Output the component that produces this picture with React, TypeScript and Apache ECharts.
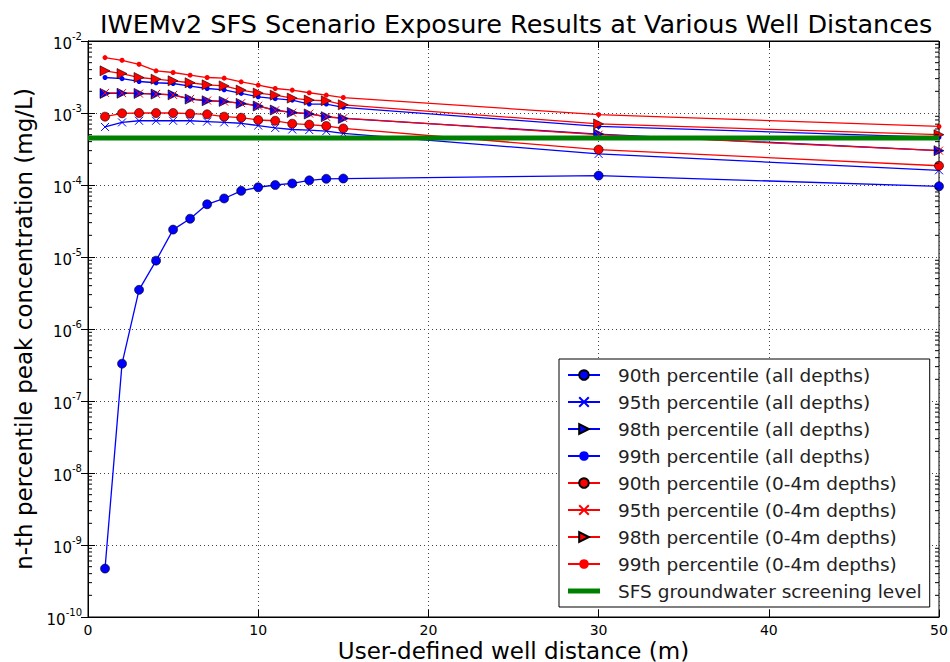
import React, { useEffect, useRef } from 'react';
import * as echarts from 'echarts';

const distances = [1, 2, 3, 4, 5, 6, 7, 8, 9, 10, 11, 12, 13, 14, 15, 30, 50];

const p90All = [4.7e-10, 3.3e-7, 3.5e-6, 8.9e-6, 2.4e-5, 3.4e-5, 5.4e-5, 6.5e-5, 8.3e-5, 9.3e-5, 1.0e-4, 1.05e-4, 1.16e-4, 1.22e-4, 1.23e-4, 1.35e-4, 9.6e-5];
const p95All = [6.4e-4, 7.4e-4, 7.8e-4, 7.8e-4, 7.8e-4, 7.8e-4, 7.6e-4, 7.4e-4, 7.2e-4, 6.7e-4, 6.2e-4, 5.9e-4, 5.8e-4, 5.6e-4, 5.2e-4, 2.7e-4, 1.6e-4];
const p98All = [1.87e-3, 1.88e-3, 1.87e-3, 1.83e-3, 1.79e-3, 1.56e-3, 1.48e-3, 1.45e-3, 1.36e-3, 1.25e-3, 1.1e-3, 1.02e-3, 9.7e-4, 8.9e-4, 8.4e-4, 5.1e-4, 3.0e-4];
const p99All = [3.11e-3, 3.0e-3, 2.74e-3, 2.63e-3, 2.57e-3, 2.36e-3, 2.19e-3, 2.1e-3, 1.87e-3, 1.68e-3, 1.58e-3, 1.51e-3, 1.33e-3, 1.33e-3, 1.2e-3, 6.5e-4, 4.6e-4];
const p90Top = [8.9e-4, 9.9e-4, 1.0e-3, 1.0e-3, 1.0e-3, 9.8e-4, 9.6e-4, 8.9e-4, 8.6e-4, 8.0e-4, 7.8e-4, 7.1e-4, 6.9e-4, 6.6e-4, 6.1e-4, 3.1e-4, 1.85e-4];
const p95Top = [1.9e-3, 1.89e-3, 1.86e-3, 1.84e-3, 1.78e-3, 1.57e-3, 1.49e-3, 1.44e-3, 1.37e-3, 1.26e-3, 1.09e-3, 1.01e-3, 9.8e-4, 8.8e-4, 8.5e-4, 5.0e-4, 3.0e-4];
const p98Top = [3.85e-3, 3.53e-3, 3.11e-3, 2.95e-3, 2.8e-3, 2.63e-3, 2.46e-3, 2.38e-3, 2.08e-3, 1.89e-3, 1.77e-3, 1.61e-3, 1.51e-3, 1.48e-3, 1.3e-3, 7.05e-4, 5.0e-4];
const p99Top = [5.88e-3, 5.4e-3, 4.75e-3, 3.85e-3, 3.65e-3, 3.35e-3, 3.11e-3, 3.05e-3, 2.71e-3, 2.44e-3, 2.19e-3, 2.08e-3, 1.91e-3, 1.77e-3, 1.64e-3, 9.5e-4, 6.5e-4];
const screeningLevel = 4.5e-4;
const screeningRange = [0, 50];

const seriesNames = [
  '90th percentile (all depths)',
  '95th percentile (all depths)',
  '98th percentile (all depths)',
  '99th percentile (all depths)',
  '90th percentile (0-4m depths)',
  '95th percentile (0-4m depths)',
  '98th percentile (0-4m depths)',
  '99th percentile (0-4m depths)',
  'SFS groundwater screening level',
];

const FONT = 'DejaVu Sans';

export default function App() {
  const ref = useRef<HTMLDivElement>(null);
  useEffect(() => {
    const chart = echarts.init(ref.current!, null, { renderer: 'svg' });
    const pair = (vals: number[]) => distances.map((d, i) => [d, vals[i]]);
    const xSym = 'path://M0,0L10,10M10,0L0,10';
    const BLUE = '#0000ff';
    const RED = '#ff0000';

    const mk = (name: string, vals: number[], color: string, kind: string) => {
      const base: any = {
        name,
        type: 'line',
        data: pair(vals),
        color,
        lineStyle: { color, width: 1.3 },
        z: 3,
      };
      if (kind === 'o') {
        base.symbol = 'circle';
        base.symbolSize = 9;
        base.itemStyle = { color, borderColor: '#000', borderWidth: 0.6 };
      } else if (kind === 'x') {
        base.symbol = xSym;
        base.symbolSize = 8;
        base.itemStyle = { color: 'none', borderColor: color, borderWidth: 1 };
      } else if (kind === '>') {
        base.symbol = 'triangle';
        base.symbolSize = 10;
        base.symbolRotate = -90;
        base.itemStyle = { color, borderColor: '#000', borderWidth: 0.6 };
      } else {
        base.symbol = 'circle';
        base.symbolSize = 5;
        base.itemStyle = { color, borderWidth: 0 };
      }
      return base;
    };

    const minorVals: number[] = [];
    for (let e = -10; e < -2; e++) {
      for (let m = 2; m <= 9; m++) minorVals.push(m * Math.pow(10, e));
    }
    const minorData: number[][] = [];
    minorVals.forEach((v) => {
      minorData.push([screeningRange[0], v, 1]);
      minorData.push([screeningRange[1], v, -1]);
    });

    const legendData: any[] = seriesNames.map((n, i) =>
      i === seriesNames.length - 1
        ? { name: n, icon: 'path://M0,0H32V5H0Z', itemStyle: { color: '#008000' } }
        : { name: n }
    );

    const option: any = {
      animation: false,
      backgroundColor: '#fff',
      textStyle: { fontFamily: FONT },
      title: {
        text: 'IWEMv2 SFS Scenario Exposure Results at Various Well Distances',
        left: 95,
        top: 6,
        textStyle: { fontFamily: FONT, fontSize: 25.5, fontWeight: 'normal', color: '#000' },
      },
      grid: {
        left: 88,
        right: 11,
        top: 41,
        bottom: 45,
        containLabel: false,
        outerBoundsMode: 'none',
        show: true,
        borderColor: '#000',
        borderWidth: 1,
        backgroundColor: '#fff',
      },
      legend: {
        orient: 'vertical',
        left: 559,
        top: 359,
        data: legendData,
        selectedMode: false,
        backgroundColor: '#fff',
        borderColor: '#000',
        borderWidth: 1,
        borderRadius: 0,
        padding: [6, 8, 6, 8],
        itemWidth: 32,
        itemHeight: 12,
        itemGap: 7,
        symbolKeepAspect: true,
        textStyle: {
          fontFamily: FONT,
          fontSize: 18.5,
          color: '#222',
          lineHeight: 20,
          padding: [0, 0, 0, 13],
        },
      },
      xAxis: [
        {
          type: 'value',
          min: 0,
          max: 50,
          interval: 10,
          name: 'User-defined well distance (m)',
          nameLocation: 'middle',
          nameGap: 22,
          nameMoveOverlap: false,
          nameTextStyle: { fontFamily: FONT, fontSize: 23, lineHeight: 23, color: '#000' },
          axisLine: { show: true, onZero: false, lineStyle: { color: '#000', width: 1 } },
          axisTick: { show: true, inside: true, length: 7, lineStyle: { color: '#000' } },
          axisLabel: { fontFamily: FONT, fontSize: 14, lineHeight: 14, color: '#000', margin: 6 },
          splitLine: { show: true, lineStyle: { color: '#444', type: [1, 3], width: 1 } },
        },
        {
          type: 'value',
          position: 'top',
          min: 0,
          max: 50,
          interval: 10,
          axisLine: { show: true, lineStyle: { color: '#000' } },
          axisTick: { show: true, inside: true, length: 7, lineStyle: { color: '#000' } },
          axisLabel: { show: false },
          splitLine: { show: false },
        },
      ],
      yAxis: [
        {
          type: 'log',
          logBase: 10,
          min: 1e-10,
          max: 1e-2,
          interval: 1,
          name: 'n-th percentile peak concentration (mg/L)',
          nameLocation: 'middle',
          nameGap: 48,
          nameTextStyle: { fontFamily: FONT, fontSize: 23, color: '#000' },
          axisLine: { show: true, lineStyle: { color: '#000', width: 1 } },
          axisTick: { show: true, inside: true, length: 7, lineStyle: { color: '#000' } },
          axisLabel: {
            margin: 6,
            formatter: (v: number) => `{b|10}{s|${Math.round(Math.log10(v))}}`,
            rich: {
              b: { fontFamily: FONT, fontSize: 15, color: '#000', lineHeight: 20, verticalAlign: 'bottom' },
              s: { fontFamily: FONT, fontSize: 10, color: '#000', lineHeight: 20, verticalAlign: 'top' },
            },
          },
          splitLine: { show: true, lineStyle: { color: '#444', type: [1, 3], width: 1 } },
        },
        {
          type: 'log',
          logBase: 10,
          position: 'right',
          min: 1e-10,
          max: 1e-2,
          interval: 1,
          axisLine: { show: true, lineStyle: { color: '#000' } },
          axisTick: { show: true, inside: true, length: 7, lineStyle: { color: '#000' } },
          axisLabel: { show: false },
          splitLine: { show: false },
        },
      ],
      series: [
        mk(seriesNames[0], p90All, BLUE, 'o'),
        mk(seriesNames[1], p95All, BLUE, 'x'),
        mk(seriesNames[2], p98All, BLUE, '>'),
        mk(seriesNames[3], p99All, BLUE, '.'),
        mk(seriesNames[4], p90Top, RED, 'o'),
        mk(seriesNames[5], p95Top, RED, 'x'),
        mk(seriesNames[6], p98Top, RED, '>'),
        mk(seriesNames[7], p99Top, RED, '.'),
        {
          name: seriesNames[8],
          type: 'line',
          data: screeningRange.map((x) => [x, screeningLevel]),
          color: '#008000',
          symbol: 'none',
          lineStyle: { color: '#008000', width: 5 },
          z: 4,
        },
        {
          name: 'minorTicks',
          type: 'custom',
          silent: true,
          data: minorData,
          z: 5,
          renderItem: (params: any, api: any) => {
            const p = api.coord([api.value(0), api.value(1)]);
            const dir = api.value(2);
            return {
              type: 'line',
              shape: { x1: p[0], y1: p[1], x2: p[0] + dir * 4, y2: p[1] },
              style: { stroke: '#000', lineWidth: 1 },
            };
          },
        },
      ],
    };
    chart.setOption(option);
    return () => chart.dispose();
  }, []);
  return (
    <div
      ref={ref}
      style={{ position: 'absolute', left: 0, top: 0, width: 950, height: 662, background: '#fff' }}
    />
  );
}
